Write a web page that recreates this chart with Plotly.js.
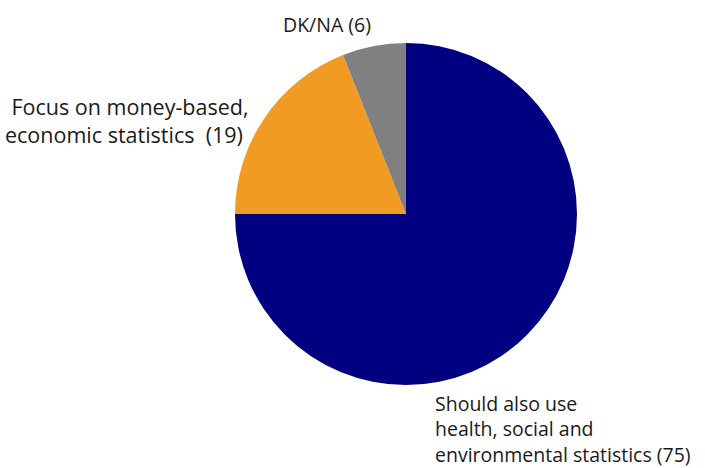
<!DOCTYPE html>
<html><head><meta charset="utf-8">
<script src="https://cdn.plot.ly/plotly-3.0.1.min.js"></script>
<style>html,body{margin:0;padding:0;background:#fff}#chart{width:705px;height:468px}</style>
</head><body><div id="chart"></div>
<script>
var categories = ["Should also use health, social and environmental statistics", "Focus on money-based, economic statistics", "DK/NA"];
var values = [75, 19, 6];
var colors = ["#000080", "#F29B23", "#808080"];
var labelTexts = ["Should also use<br>health, social and<br>environmental statistics (75)", "Focus on money-based,<br>economic statistics  (19)\u00a0", "DK/NA (6)"];

var trace = {
  type: "pie",
  labels: categories,
  values: values,
  sort: false,
  direction: "clockwise",
  rotation: 0,
  textinfo: "none",
  hoverinfo: "label+value",
  marker: {colors: colors, line: {width: 0}},
  domain: {x: [235/705, 577/705], y: [1 - 385/468, 1 - 43/468]},
  showlegend: false
};

function f(sz) { return {family: "Open Sans, Noto Sans, sans-serif", size: sz, color: "#1a1a1a"}; }
var layout = {
  width: 705, height: 468,
  margin: {l: 0, r: 0, t: 0, b: 0},
  paper_bgcolor: "#fff",
  showlegend: false,
  annotations: [
    {text: labelTexts[0], x: 433/705, y: 1 - 429/468, xref: "paper", yref: "paper", xanchor: "left", yanchor: "middle", align: "left", showarrow: false, font: f(19.5)},
    {text: labelTexts[1], x: 251/705, y: 1 - 121/468, xref: "paper", yref: "paper", xanchor: "right", yanchor: "middle", align: "right", showarrow: false, font: f(21.5)},
    {text: labelTexts[2], x: 327/705, y: 1 - 24/468, xref: "paper", yref: "paper", xanchor: "center", yanchor: "middle", align: "center", showarrow: false, font: f(19.5)}
  ]
};
Plotly.newPlot("chart", [trace], layout, {displayModeBar: false, staticPlot: true});
</script></body></html>
